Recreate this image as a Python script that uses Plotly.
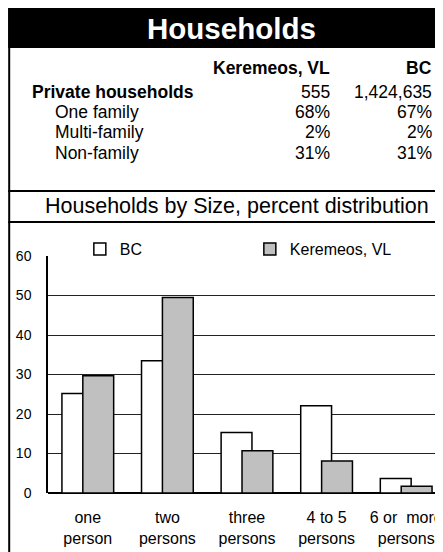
import plotly.graph_objects as go

FONT = "Liberation Sans, Arial, sans-serif"

# table data
TABLE_COLS = ["Keremeos, VL", "BC"]
TABLE_ROWS = ["Private households", "One family", "Multi-family", "Non-family"]
TABLE_KEREMEOS = ["555", "68%", "2%", "31%"]
TABLE_BC = ["1,424,635", "67%", "2%", "31%"]

# chart data
SIZES = ["one<br>person", "two<br>persons", "three<br>persons", "4 to 5<br>persons", "6 or  more<br>persons"]
BC_PCT = [25.2, 33.5, 15.3, 22.1, 3.7]
KEREMEOS_PCT = [29.7, 49.5, 10.7, 8.1, 1.7]

# page has an 8px body margin, so the figure is 435x544
OFF = 8
W, H = 435, 544
ML, MR, MT, MB = 40, 0, 248, 59
PW, PH = W - ML - MR, H - MT - MB


def px(x):
    return (x - OFF - ML) / PW


def py(y):
    return (H - MB - (y - OFF)) / PH


fig = go.Figure()
fig.add_trace(go.Bar(
    name="BC", x=SIZES, y=BC_PCT,
    marker=dict(color="white", line=dict(color="black", width=1.5)),
    width=0.3875, offset=-0.325,
))
fig.add_trace(go.Bar(
    name="Keremeos, VL", x=SIZES, y=KEREMEOS_PCT,
    marker=dict(color="#C0C0C0", line=dict(color="black", width=1.5)),
    width=0.3875, offset=-0.0625,
))

shapes = [
    dict(type="rect", xref="paper", yref="paper", x0=px(8), x1=px(450), y0=py(8), y1=py(48),
         fillcolor="black", line=dict(width=0), layer="below"),
    dict(type="line", xref="paper", yref="paper", x0=px(9), x1=px(9), y0=py(8), y1=py(560),
         line=dict(color="black", width=2)),
    dict(type="line", xref="paper", yref="paper", x0=px(8), x1=px(450), y0=py(191), y1=py(191),
         line=dict(color="black", width=2)),
    dict(type="line", xref="paper", yref="paper", x0=px(8), x1=px(450), y0=py(222), y1=py(222),
         line=dict(color="black", width=2)),
]

ann = [
    dict(text="<b>Households</b>", x=px(232), y=py(28), font=dict(size=29.5, color="white"),
         xanchor="center", yanchor="middle"),
    dict(text="Households by Size, percent distribution", x=px(238), y=py(206),
         font=dict(size=21.5), xanchor="center", yanchor="middle"),
    dict(text="<b>" + TABLE_COLS[0] + "</b>", x=px(333), y=py(68), xanchor="right", yanchor="middle",
         font=dict(size=17.5)),
    dict(text="<b>" + TABLE_COLS[1] + "</b>", x=px(436), y=py(68), xanchor="right", yanchor="middle",
         font=dict(size=17.5)),
]
row_y = [92, 112, 132, 153]
for i, label in enumerate(TABLE_ROWS):
    lx = 30 if i == 0 else 53
    txt = "<b>" + label + "</b>" if i == 0 else label
    ann.append(dict(text=txt, x=px(lx), y=py(row_y[i]), xanchor="left", yanchor="middle",
                    font=dict(size=17.5)))
    ann.append(dict(text=TABLE_KEREMEOS[i], x=px(333), y=py(row_y[i]), xanchor="right",
                    yanchor="middle", font=dict(size=17.5)))
    ann.append(dict(text=TABLE_BC[i], x=px(436), y=py(row_y[i]), xanchor="right",
                    yanchor="middle", font=dict(size=17.5)))
for a in ann:
    a.update(xref="paper", yref="paper", showarrow=False)

fig.update_layout(
    width=W, height=H,
    margin=dict(l=ML, r=MR, t=MT, b=MB),
    paper_bgcolor="white", plot_bgcolor="white",
    font=dict(family=FONT, color="black", size=15),
    barmode="overlay",
    showlegend=True,
    legend=dict(orientation="h", x=px(80), y=py(232), xanchor="left", yanchor="top",
                entrywidth=125, entrywidthmode="pixels", font=dict(size=16),
                bgcolor="rgba(0,0,0,0)", traceorder="normal"),
    xaxis=dict(range=[-0.5, 4.4375], showgrid=False, showline=False, ticks="",
               tickfont=dict(size=16), ticklabelstandoff=13, fixedrange=True),
    yaxis=dict(range=[0, 60], dtick=10, showgrid=True, gridcolor="#222", gridwidth=1,
               showline=True, linecolor="black", linewidth=1.5, zeroline=True,
               zerolinecolor="black", zerolinewidth=1.5, ticks="",
               tickfont=dict(size=14), ticklabelstandoff=12, fixedrange=True),
    shapes=shapes,
    annotations=ann,
)

fig.write_html("out.html")
